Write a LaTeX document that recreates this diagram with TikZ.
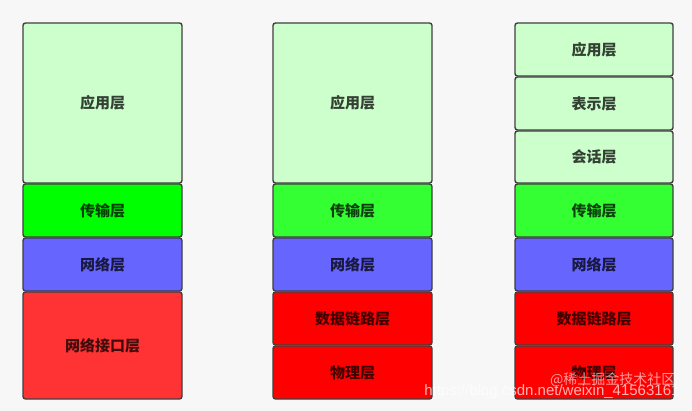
\documentclass[tikz,border=0pt]{standalone}
\usepackage{fontspec}
\newfontfamily\cjk{Noto Sans CJK SC}
\newfontfamily\wmfont{Liberation Sans}
\usepackage{tikz}

\definecolor{lightgreen}{HTML}{CCFFCC}
\definecolor{tcpgreen}{HTML}{33FF33}
\definecolor{ipblue}{HTML}{6666FF}
\definecolor{linkred}{HTML}{FF0000}
\definecolor{borderdark}{HTML}{3F3F3F}

\tikzset{
  layer/.style={draw=borderdark, line width=1.4pt, rounded corners=2.5pt,
    minimum width=159pt, inner sep=0pt, text=black, text opacity=0.75,
    font=\cjk\bfseries\fontsize{15}{17}\selectfont},
}

\begin{document}
\begin{tikzpicture}[x=1pt,y=-1pt]
\fill[color=black!3] (0,0) rectangle (692,411);
\useasboundingbox (0,0) rectangle (692,411);

% TCP/IP
\node[layer, fill=lightgreen, minimum height=160pt] (app1)  at (102.5,103)   {应用层};
\node[layer, fill=green,      minimum height=53pt]  (tcp1)  at (102.5,210.5) {传输层};
\node[layer, fill=ipblue,     minimum height=53pt]  (ip1)   at (102.5,264.5) {网络层};
\node[layer, fill=red!80,     minimum height=107pt] (if1)   at (102.5,345.5) {网络接口层};

% five layers
\node[layer, fill=lightgreen, minimum height=160pt] (app2)  at (352.5,103)   {应用层};
\node[layer, fill=tcpgreen,   minimum height=53pt]  (tcp2)  at (352.5,210.5) {传输层};
\node[layer, fill=ipblue,     minimum height=53pt]  (ip2)   at (352.5,264.5) {网络层};
\node[layer, fill=linkred,    minimum height=53pt]  (link2) at (352.5,318.5) {数据链路层};
\node[layer, fill=linkred,    minimum height=53pt]  (phy2)  at (352.5,372.5) {物理层};

% OSI
\node[layer, fill=lightgreen, minimum height=53pt, minimum width=158pt] (app3)  at (594,49.5)  {应用层};
\node[layer, fill=lightgreen, minimum height=53pt, minimum width=158pt] (pres3) at (594,103.5) {表示层};
\node[layer, fill=lightgreen, minimum height=52pt, minimum width=158pt] (sess3) at (594,157)   {会话层};
\node[layer, fill=tcpgreen,   minimum height=53pt, minimum width=158pt] (tcp3)  at (594,210.5) {传输层};
\node[layer, fill=ipblue,     minimum height=53pt, minimum width=158pt] (ip3)   at (594,264.5) {网络层};
\node[layer, fill=linkred,    minimum height=53pt, minimum width=158pt] (link3) at (594,318.5) {数据链路层};
\node[layer, fill=linkred,    minimum height=53pt, minimum width=158pt] (phy3)  at (594,372.5) {物理层};

% watermark
\node[anchor=east, text=white, opacity=0.6, font=\cjk\fontsize{14}{16}\selectfont] (mark) at (679,380) {@稀土掘金技术社区};
\node[anchor=east, text=white, opacity=0.7, font=\wmfont\fontsize{15}{17}\selectfont] (url) at (683,392) {https://blog.csdn.net/weixin\_41563161};
\end{tikzpicture}
\end{document}
